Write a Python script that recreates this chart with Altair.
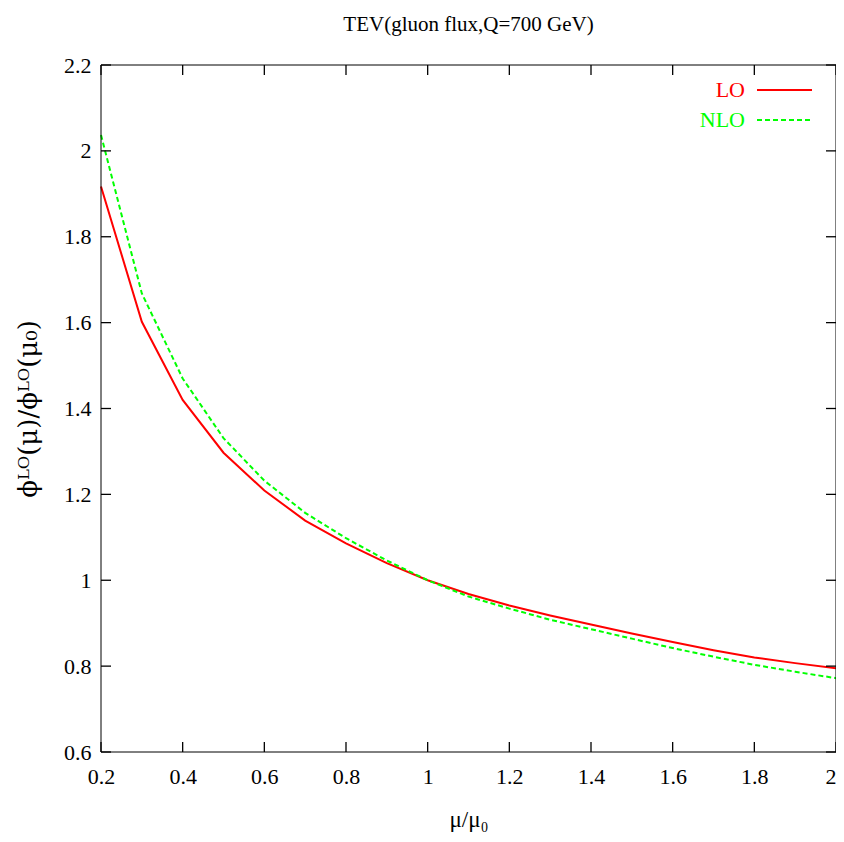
import altair as alt
import pandas as pd

# ---- data ----
mu = [0.2, 0.3, 0.4, 0.5, 0.6, 0.7, 0.8, 0.9, 1.0, 1.1, 1.2, 1.3, 1.4, 1.5,
      1.6, 1.7, 1.8, 1.9, 2.0]
lo = [1.917, 1.602, 1.420, 1.297, 1.209, 1.139, 1.086, 1.040, 1.000, 0.968,
      0.941, 0.918, 0.897, 0.876, 0.856, 0.837, 0.820, 0.807, 0.795]
nlo = [2.037, 1.668, 1.470, 1.331, 1.232, 1.157, 1.098, 1.046, 1.000, 0.962,
       0.934, 0.908, 0.886, 0.864, 0.842, 0.822, 0.803, 0.787, 0.772]
x_ticks = [0.2, 0.4, 0.6, 0.8, 1.0, 1.2, 1.4, 1.6, 1.8, 2.0]
y_ticks = [0.6, 0.8, 1.0, 1.2, 1.4, 1.6, 1.8, 2.0, 2.2]
series_names = ["LO", "NLO"]
series_colors = ["#ff0000", "#00ff00"]

W, H = 735, 687
FONT = "Liberation Serif"
TL = 10  # inward tick length

df = pd.DataFrame({"mu": mu, "LO": lo, "NLO": nlo})
xs = alt.Scale(domain=[0.2, 2.0], nice=False, zero=False)
ys = alt.Scale(domain=[0.6, 2.2], nice=False, zero=False)

common = dict(domain=False, grid=False, ticks=False, labelFlush=False,
              labelOverlap=False, format="~g")

x_bottom = alt.Axis(orient="bottom", values=x_ticks, labelFont=FONT,
                    labelFontSize=22, labelPadding=14, labelColor="black",
                    labelAlign={"condition": {"test": "datum.value >= 1.99",
                                              "value": "right"},
                                "value": "center"},
                    title="μ/μ₀", titleFont=FONT, titleFontSize=23,
                    titleFontWeight="normal", titlePadding=21,
                    titleColor="black", **common)
y_left = alt.Axis(orient="left", values=y_ticks, labelFont=FONT,
                  labelFontSize=22, labelPadding=10, labelColor="black",
                  title="ϕᴸᴼ(μ)/ϕᴸᴼ(μ₀)", titleFont="DejaVu Serif",
                  titleFontSize=26, titleFontWeight="normal", titlePadding=22,
                  titleColor="black", **common)

base = alt.Chart(df)

lo_line = base.mark_line(color=series_colors[0], strokeWidth=2).encode(
    x=alt.X("mu:Q", scale=xs, axis=x_bottom),
    y=alt.Y("LO:Q", scale=ys, axis=y_left),
)

nlo_line = base.mark_line(color=series_colors[1], strokeWidth=2,
                          strokeDash=[5, 3]).encode(
    x=alt.X("mu:Q", scale=xs, axis=None),
    y=alt.Y("NLO:Q", scale=ys, axis=None),
)

# ---- plot border ----
frame = alt.Chart(pd.DataFrame({"k": [0]})).mark_rect(
    filled=False, stroke="black", strokeWidth=1, fillOpacity=0).encode(
    x=alt.value(0), x2=alt.value(W), y=alt.value(0), y2=alt.value(H))

# ---- inward ticks on all four sides (gnuplot mirror tics) ----
xt = alt.Chart(pd.DataFrame({"t": x_ticks}))
yt = alt.Chart(pd.DataFrame({"t": y_ticks}))
tick_bottom = xt.mark_rule(color="black", strokeWidth=1.3).encode(
    x=alt.X("t:Q", scale=xs, axis=None), y=alt.value(H - TL), y2=alt.value(H))
tick_top = xt.mark_rule(color="black", strokeWidth=1.3).encode(
    x=alt.X("t:Q", scale=xs, axis=None), y=alt.value(TL), y2=alt.value(0))
tick_left = yt.mark_rule(color="black", strokeWidth=1.3).encode(
    y=alt.Y("t:Q", scale=ys, axis=None), x=alt.value(TL), x2=alt.value(0))
tick_right = yt.mark_rule(color="black", strokeWidth=1.3).encode(
    y=alt.Y("t:Q", scale=ys, axis=None), x=alt.value(W), x2=alt.value(W - TL))

# ---- key, gnuplot style (label left of sample) ----
leg_layers = []
for i, (name, col) in enumerate(zip(series_names, series_colors)):
    ypos = 25 + i * 30
    c = alt.Chart(pd.DataFrame({"name": [name]}))
    leg_layers.append(c.mark_text(align="right", baseline="middle", font=FONT,
                                  fontSize=22, color=col).encode(
        text="name:N", x=alt.value(644), y=alt.value(ypos)))
    rule_kw = dict(color=col, strokeWidth=2)
    if i == 1:
        rule_kw["strokeDash"] = [5, 3]
    leg_layers.append(c.mark_rule(**rule_kw).encode(
        x=alt.value(656), x2=alt.value(711), y=alt.value(ypos)))

chart = alt.layer(
    lo_line, nlo_line, frame, tick_bottom, tick_top, tick_left, tick_right,
    *leg_layers
).resolve_scale(x="shared", y="shared").resolve_axis(
    x="independent", y="independent"
).properties(
    width=W, height=H,
    title=alt.TitleParams("TEV(gluon flux,Q=700 GeV)", font=FONT, fontSize=21,
                          fontWeight="normal", anchor="middle", offset=19,
                          color="black"),
    autosize=alt.AutoSizeParams(type="none"),
    padding={"left": 93, "top": 57, "right": 0, "bottom": 80},
).configure_axis(
    labelFont=FONT, titleFont=FONT
).configure_view(strokeWidth=0)

chart.save("out.html", embed_options={"renderer": "svg", "actions": False})
